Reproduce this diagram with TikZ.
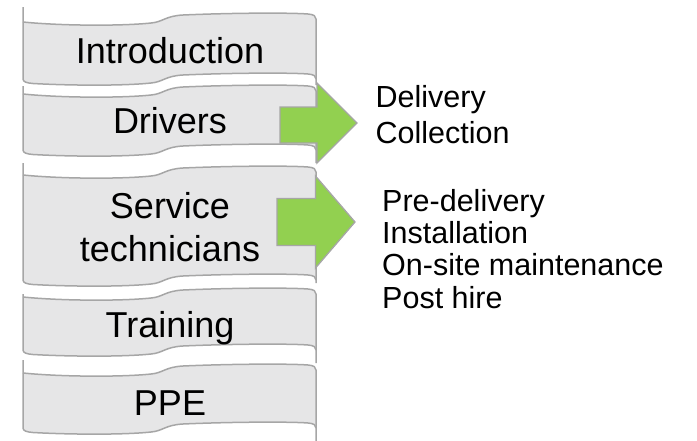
\documentclass[tikz,border=0pt]{standalone}
\usepackage{fontspec}
\setmainfont{Liberation Sans}
\definecolor{tabfill}{HTML}{E6E6E7}
\definecolor{tabline}{HTML}{A6A6A6}
\definecolor{arrowgreen}{HTML}{92D050}
\tikzset{
  tabedge/.style={draw=tabline, line width=1.5pt, line join=round},
  greenarrow/.style={fill=arrowgreen, draw=tabline, line width=1.3pt, line join=miter},
  tablabel/.style={font=\fontsize{36}{43}\selectfont, text=black, inner sep=0pt},
  itemlabel/.style={font=\fontsize{30.5}{36}\selectfont, text=black, inner sep=0pt, anchor=base west},
}
% #1 = top y, #2 = height, #3 = left line above top, #4 = right line below bottom
\newcommand\wavetab[4]{%
\begin{scope}[shift={(23,#1)}]
  \def\H{#2}
  \fill[tabfill] (0,0) .. controls (40,4) and (100,4) .. (128,1)
      .. controls (140,0) and (142,-6) .. (160,-7)
      .. controls (205,-9) and (265,-9.5) .. (285,-8)
      .. controls (291,-7.5) and (293,-6) .. (293,-3)
      -- (293,\H-3)
      .. controls (293,\H-6) and (291,\H-7.5) .. (285,\H-8)
      .. controls (265,\H-9.5) and (205,\H-9) .. (160,\H-7)
      .. controls (142,\H-6) and (140,\H) .. (128,\H+1)
      .. controls (100,\H+4) and (45,\H+3.5) .. (10,\H+1.5)
      .. controls (4,\H+1) and (0,\H) .. (0,\H-3) -- cycle;
  \draw[tabedge] (0,0) .. controls (40,4) and (100,4) .. (128,1)
      .. controls (140,0) and (142,-6) .. (160,-7)
      .. controls (205,-9) and (265,-9.5) .. (285,-8)
      .. controls (291,-7.5) and (293,-6) .. (293,-3)
      -- (293,\H+#4);
  \draw[tabedge] (0,-#3) -- (0,\H-3)
      .. controls (0,\H) and (4,\H+1) .. (10,\H+1.5)
      .. controls (45,\H+3.5) and (100,\H+4) .. (128,\H+1)
      .. controls (140,\H) and (142,\H-6) .. (160,\H-7)
      .. controls (205,\H-9) and (265,\H-9.5) .. (285,\H-8)
      .. controls (291,\H-7.5) and (293,\H-6) .. (293,\H-3);
\end{scope}}
\begin{document}
\begin{tikzpicture}[x=1pt,y=-1pt]
\useasboundingbox (0,0) rectangle (697,440);
% tabs
\wavetab{22}{60}{15}{3}
\wavetab{94}{59}{8}{10}
\wavetab{175}{108}{12}{0}
\wavetab{297}{56}{3}{10}
\wavetab{373}{58}{13}{12}
% arrows
\draw[greenarrow] (280,107) -- (317,107) -- (317,83) -- (357,123) -- (317,163) -- (317,143) -- (280,143) -- cycle;
\draw[greenarrow] (277,198.5) -- (315.5,198.5) -- (315.5,176) -- (355,222) -- (315.5,268) -- (315.5,245.5) -- (277,245.5) -- cycle;
% tab labels
\node[tablabel, anchor=base] (intro) at (170,63) {Introduction};
\node[tablabel, anchor=base] (drivers) at (170,133) {Drivers};
\node[tablabel, align=center] (service) at (170,227.5) {Service\\technicians};
\node[tablabel, anchor=base] (training) at (170,337) {Training};
\node[tablabel, anchor=base] (ppe) at (170,415) {PPE};
% item labels
\node[itemlabel] (delivery) at (375.5,107) {Delivery};
\node[itemlabel] (collection) at (375.5,143) {Collection};
\node[itemlabel] (predelivery) at (382,211) {Pre-delivery};
\node[itemlabel] (installation) at (382,243) {Installation};
\node[itemlabel] (onsite) at (382,275.5) {On-site maintenance};
\node[itemlabel] (posthire) at (382,308) {Post hire};
\end{tikzpicture}
\end{document}
